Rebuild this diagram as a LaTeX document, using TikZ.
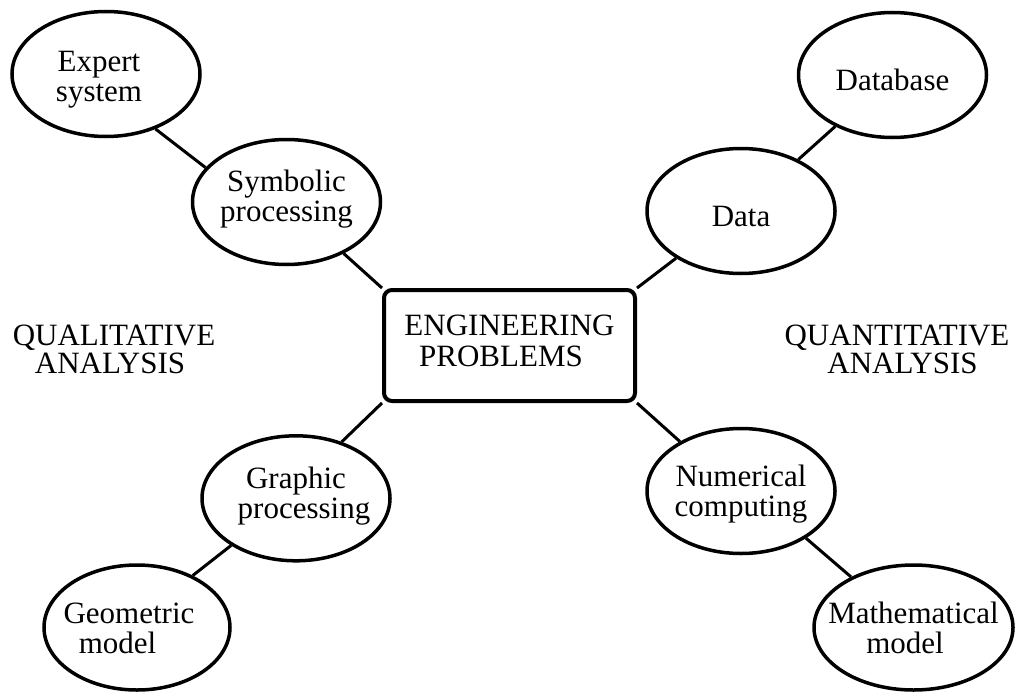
\documentclass[tikz,border=0pt]{standalone}
\usepackage{fontspec}
\setmainfont{Liberation Serif}
\usetikzlibrary{shapes.geometric}
\begin{document}
\begin{tikzpicture}[x=1pt,y=1pt,
  bubble/.style={ellipse, draw, line width=3.5pt, inner sep=-24pt,
    minimum width=188pt, minimum height=125pt, align=center,
    text depth=0pt, font=\fontsize{31}{30}\selectfont},
  problem/.style={rectangle, draw, line width=4pt, rounded corners=8pt,
    minimum width=251pt, minimum height=111pt, align=center,
    text depth=0pt, font=\fontsize{31}{31}\selectfont},
  side/.style={align=center, font=\fontsize{31}{28.5}\selectfont},
  link/.style={line width=3pt}]
\useasboundingbox (0,0) rectangle (1016,-693);

% central problem box
\node[problem, text height=42.4pt] (core) at (509.5,-345.5)
  {ENGINEERING\\\hspace*{-17pt}PROBLEMS};

% qualitative branch
\node[bubble, text height=55pt] (expert) at (106,-74)
  {\hspace*{-14pt}Expert\\\hspace*{-14pt}system};
\node[bubble, text height=39.4pt] (symbolic) at (286.5,-202)
  {Symbolic\\processing};
\node[bubble, text height=39.4pt] (graphic) at (296,-498.3)
  {Graphic\\\hspace*{16pt}processing};
\node[bubble, minimum width=186pt, text height=51pt] (geometric) at (137,-627.5)
  {\hspace*{-16pt}Geometric\\\hspace*{-39pt}model};

% quantitative branch
\node[bubble, text height=30pt] (database) at (892.5,-75) {Database};
\node[bubble, text height=30pt] (data) at (741,-211) {Data};
\node[bubble, text height=51.4pt] (numerical) at (741,-491)
  {Numerical\\computing};
\node[bubble, minimum width=199pt, text height=51pt] (math) at (913.5,-627.5)
  {Mathematical\\\hspace*{-17pt}model};

% side captions
\node[side] (qual) at (114,-349.5) {QUALITATIVE\\\hspace*{-8pt}ANALYSIS};
\node[side] (quant) at (897,-349.5) {QUANTITATIVE\\\hspace*{11pt}ANALYSIS};

% connectors
\draw[link] (expert.-48.7) -- (symbolic.157.4);
\draw[link] (symbolic) -- (core.north west);
\draw[link] (graphic.51.1) -- (core.south west);
\draw[link] (graphic.216.6) -- (geometric.43.7);
\draw[link] (database) -- (data);
\draw[link] (data.216.6) -- (core.north east);
\draw[link] (numerical.141.2) -- (core.south east);
\draw[link] (numerical.-36.6) -- (math.141.5);
\end{tikzpicture}
\end{document}
